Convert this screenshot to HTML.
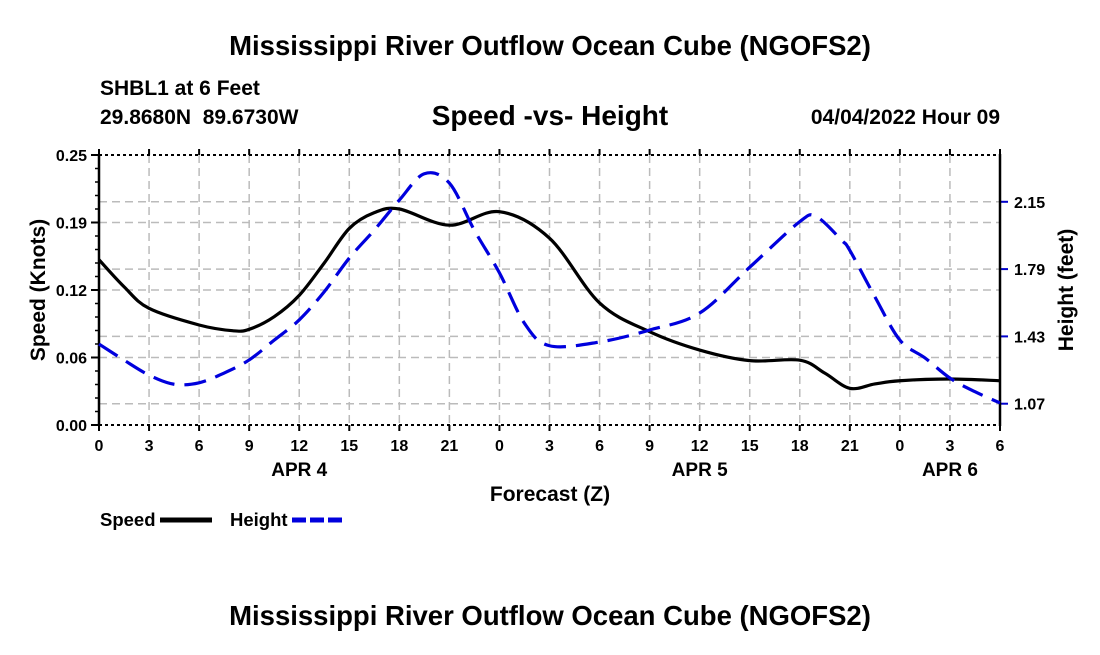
<!DOCTYPE html>
<html><head><meta charset="utf-8"><style>
html,body{margin:0;padding:0;background:#fff;}
svg text{font-family:"Liberation Sans",Arial,sans-serif;font-weight:bold;fill:#000;}
</style></head><body>
<svg id="chart" width="1100" height="650" xmlns="http://www.w3.org/2000/svg">
<text x="550" y="55" font-size="27.5" text-anchor="middle">Mississippi River Outflow Ocean Cube (NGOFS2)</text>
<text x="100" y="95" font-size="21">SHBL1 at 6 Feet</text>
<text x="100" y="124" font-size="21" xml:space="preserve">29.8680N  89.6730W</text>
<text x="550" y="125" font-size="28" text-anchor="middle">Speed -vs- Height</text>
<text x="1000" y="124" font-size="21" text-anchor="end">04/04/2022 Hour 09</text>
<g id="grid"></g>
<g id="axes"></g>
<g id="series"></g>
<text transform="translate(45,290) rotate(-90)" font-size="21" text-anchor="middle">Speed (Knots)</text>
<text transform="translate(1073,290) rotate(-90)" font-size="21" text-anchor="middle">Height (feet)</text>
<text x="550" y="501" font-size="21" text-anchor="middle">Forecast (Z)</text>
<g>
<text x="100" y="526" font-size="18.5">Speed</text>
<line x1="160" y1="520" x2="212" y2="520" stroke="#000" stroke-width="5"/>
<text x="230" y="526" font-size="18.5">Height</text>
<line x1="292" y1="520" x2="343" y2="520" stroke="#0000dd" stroke-width="5" stroke-dasharray="14,4"/>
</g>
<text x="550" y="625" font-size="27.5" text-anchor="middle">Mississippi River Outflow Ocean Cube (NGOFS2)</text>
</svg>
<script>
const speedHours=[0,1.5,3,6,8,9,10.5,12,13.5,15,16.5,18,21,24,27,30,33,36,39,42,43.5,45,46.5,48,51,54];
const speedValues=[0.153,0.128,0.108,0.0926,0.0873,0.0886,0.1003,0.120,0.150,0.182,0.1966,0.200,0.185,0.1975,0.173,0.113,0.0864,0.0694,0.0596,0.060,0.048,0.034,0.038,0.041,0.0426,0.041];
const heightHours=[0,1.5,3,4.5,6,7.5,9,10.5,12,13.5,15,16.5,18,19.5,21,22.5,24,25.5,27,30,33,36,39,42,43,44.5,45,46.5,48,49.5,51,52.5,54];
const heightValues=[1.389,1.303,1.223,1.174,1.182,1.234,1.304,1.41,1.518,1.669,1.849,1.999,2.159,2.30,2.25,1.997,1.77,1.50,1.38,1.40,1.464,1.555,1.80,2.044,2.07,1.945,1.89,1.642,1.41,1.315,1.207,1.134,1.074];
const xTickHours=[0,3,6,9,12,15,18,21,24,27,30,33,36,39,42,45,48,51,54];
const xTickLabels=["0","3","6","9","12","15","18","21","0","3","6","9","12","15","18","21","0","3","6"];
const dayLabels=["APR 4","APR 5","APR 6"];
const dayHours=[12,36,51];
const leftTicks=[0,0.0625,0.125,0.1875,0.25];
const leftTickLabels=["0.00","0.06","0.12","0.19","0.25"];
const rightTicks=[1.07,1.43,1.79,2.15];
const rightTickLabels=["1.07","1.43","1.79","2.15"];

const X0=99,X1=1000,Y0=425,Y1=155;
const xs=h=>X0+(h/54)*(X1-X0);
const ys=v=>Y0-(v/0.25)*(Y0-Y1);
const yh=v=>403.7-(v-1.07)/0.36*67.3;
const NS='http://www.w3.org/2000/svg';
function mk(tag,attrs,parent){const e=document.createElementNS(NS,tag);for(const k in attrs)e.setAttribute(k,attrs[k]);parent.appendChild(e);return e;}
const grid=document.getElementById('grid'),axes=document.getElementById('axes'),series=document.getElementById('series');

xTickHours.forEach((h,i)=>{
  if(h>0&&h<54){const l=mk('line',{x1:xs(h),y1:Y1,x2:xs(h),y2:Y0,stroke:'#bbb','stroke-width':1.5,'stroke-dasharray':'8,5'},grid);
  
  }
  const t=mk('line',{x1:xs(h),y1:Y0,x2:xs(h),y2:Y0+6,stroke:'#000','stroke-width':2},axes);
  
  
  const t2=mk('line',{x1:xs(h),y1:Y1,x2:xs(h),y2:Y1-6,stroke:'#000','stroke-width':2},axes);
  
  
  const tx=mk('text',{x:xs(h),y:451,'font-size':16,'text-anchor':'middle'},axes);tx.textContent=xTickLabels[i];
  
  
});
dayLabels.forEach((d,i)=>{const t=mk('text',{x:xs(dayHours[i]),y:476,'font-size':19,'text-anchor':'middle'},axes);t.textContent=d;
  
  });
leftTicks.forEach((v,i)=>{
  if(v>0&&v<0.25){const l=mk('line',{x1:X0,y1:ys(v),x2:X1,y2:ys(v),stroke:'#bbb','stroke-width':1.5,'stroke-dasharray':'8,5'},grid);
  
  }
  const t=mk('line',{x1:X0-8,y1:ys(v),x2:X0,y2:ys(v),stroke:'#000','stroke-width':2},axes);
  
  
  const tx=mk('text',{x:X0-12,y:ys(v)+6,'font-size':16,'text-anchor':'end'},axes);tx.textContent=leftTickLabels[i];
  
  
});
for(let k=1;k<20;k++){const v=k*0.0125;const t=mk('line',{x1:X0-4,y1:ys(v),x2:X0,y2:ys(v),stroke:'#000','stroke-width':1.5},axes);
  
  }
rightTicks.forEach((v,i)=>{
  const l=mk('line',{x1:X0,y1:yh(v),x2:X1,y2:yh(v),stroke:'#bbb','stroke-width':1.5,'stroke-dasharray':'8,5'},grid);
  
  
  const t=mk('line',{x1:X1,y1:yh(v),x2:X1+8,y2:yh(v),stroke:'#0000cc','stroke-width':2},axes);
  
  
  const tx=mk('text',{x:X1+14,y:yh(v)+6,'font-size':16},axes);tx.textContent=rightTickLabels[i];
  
  
});
[[X0,Y1,X0,Y0,'left'],[X1,Y1,X1,Y0,'right']].forEach(a=>{const l=mk('line',{x1:a[0],y1:a[1]-1,x2:a[2],y2:a[3]+1,stroke:'#000','stroke-width':2.5},axes);
  
  });
[Y1,Y0].forEach(y=>{const l=mk('line',{x1:X0,y1:y,x2:X1,y2:y,stroke:'#000','stroke-width':2,'stroke-dasharray':'3,3'},axes);
  
  });

function path(hours,vals,yf){
  const p=hours.map((h,i)=>[xs(h),yf(vals[i])]);
  let d='M'+p[0][0]+','+p[0][1];
  for(let i=0;i<p.length-1;i++){
    const p0=p[Math.max(0,i-1)],p1=p[i],p2=p[i+1],p3=p[Math.min(p.length-1,i+2)];
    const c1=[p1[0]+(p2[0]-p0[0])/6,p1[1]+(p2[1]-p0[1])/6];
    const c2=[p2[0]-(p3[0]-p1[0])/6,p2[1]-(p3[1]-p1[1])/6];
    d+=' C'+c1[0]+','+c1[1]+' '+c2[0]+','+c2[1]+' '+p2[0]+','+p2[1];
  }
  return d;
}
const sp=mk('path',{d:path(speedHours,speedValues,ys),fill:'none',stroke:'#000','stroke-width':3.2},series);


const hp=mk('path',{d:path(heightHours,heightValues,yh),fill:'none',stroke:'#0000dd','stroke-width':3.2,'stroke-dasharray':'22,10'},series);


</script>
</body></html>
